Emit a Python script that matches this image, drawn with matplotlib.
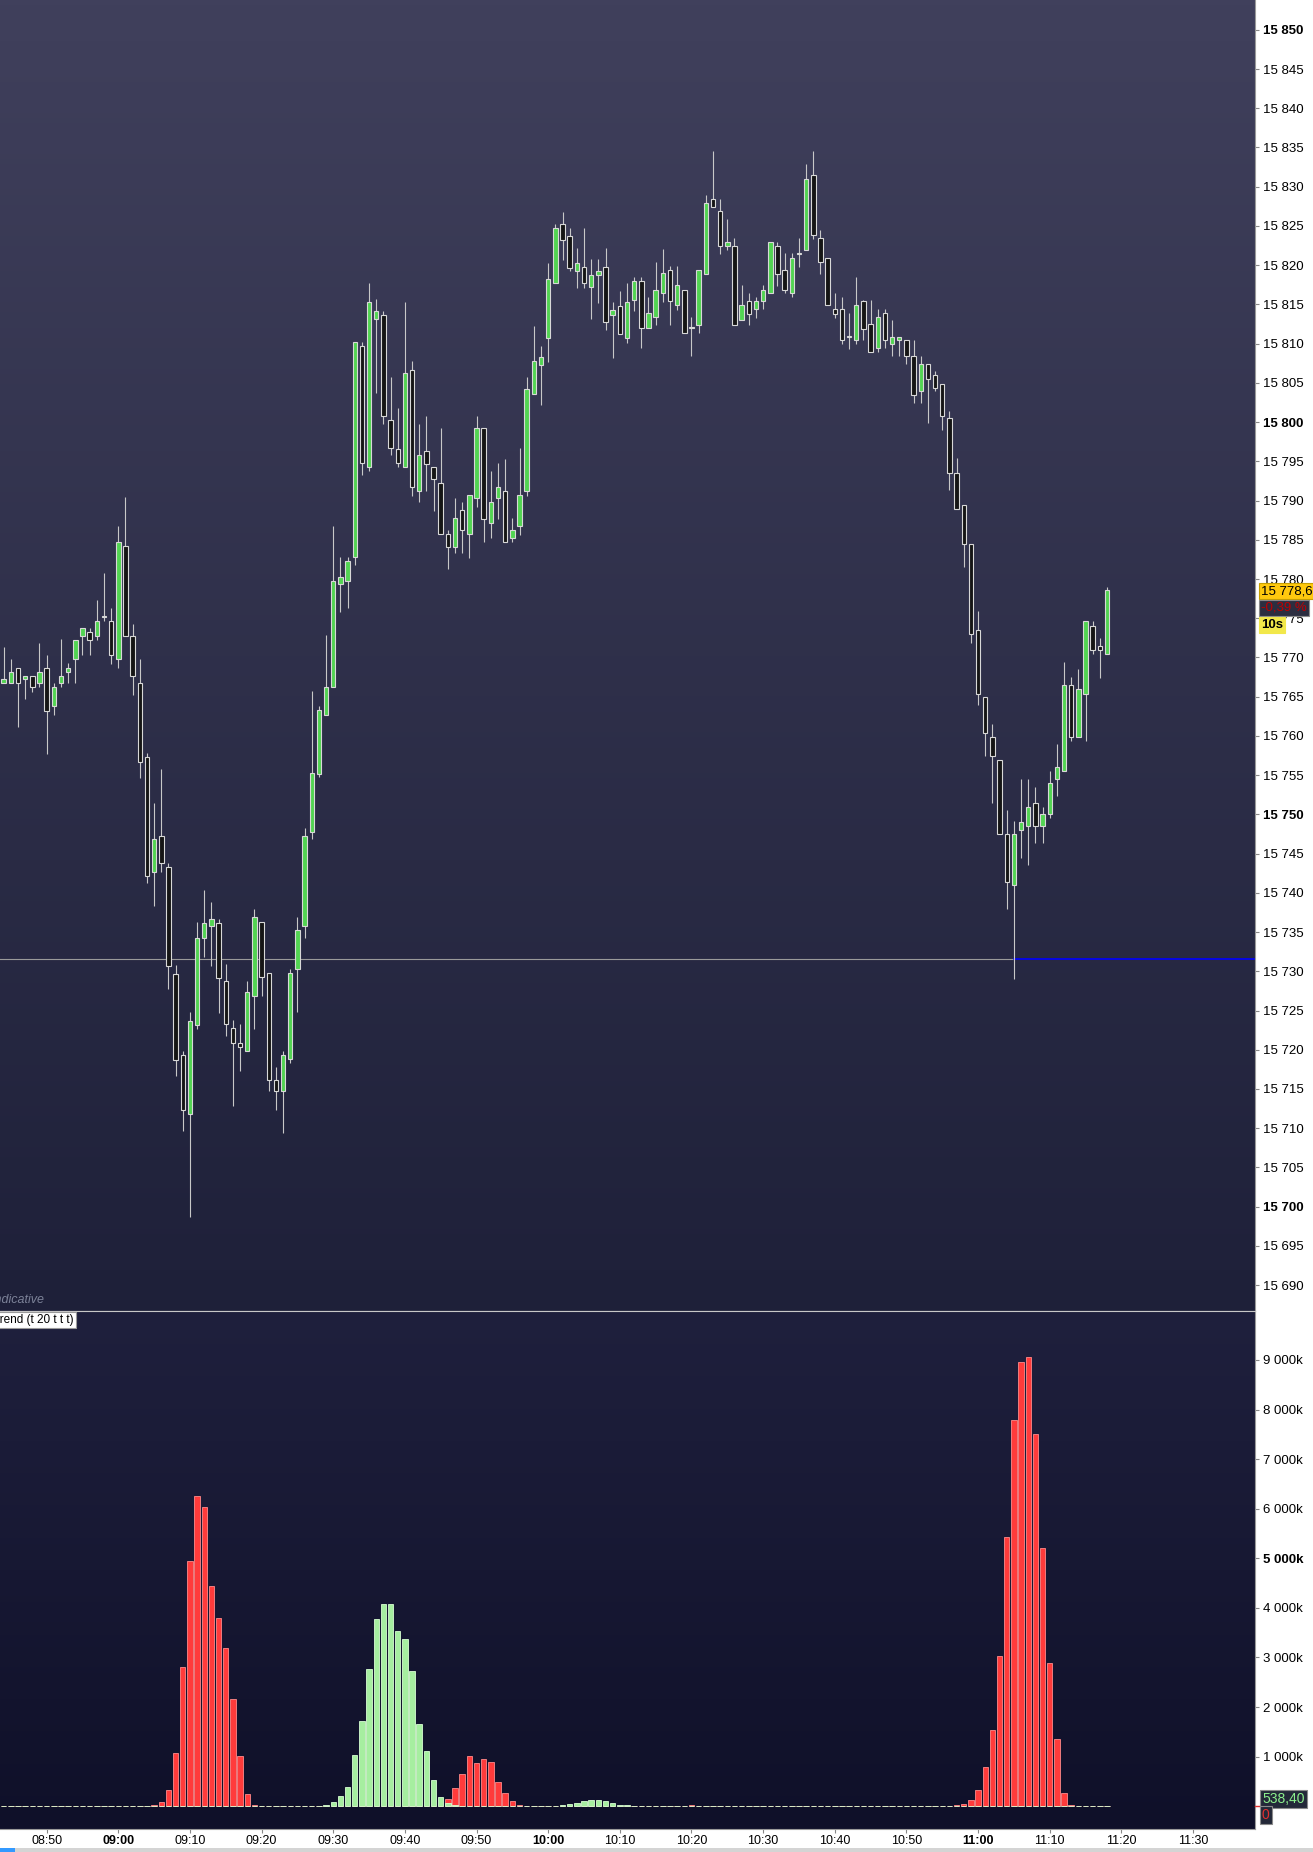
import numpy as np
import matplotlib
matplotlib.use("Agg")
import matplotlib.pyplot as plt
from matplotlib.colors import LinearSegmentedColormap
from matplotlib.patches import Rectangle

plt.rcParams["font.family"] = ["Liberation Sans", "DejaVu Sans"]

# one-minute candles from 08:44 to 11:18
opens = [15766.7, 15766.7, 15768.7, 15767.2, 15767.7, 15766.7, 15768.7, 15763.8, 15766.7, 15768.2,
         15769.8, 15772.7, 15773.2, 15772.7, 15775.2, 15774.7, 15769.8, 15784.2, 15772.7, 15766.7,
         15757.3, 15742.7, 15747.2, 15743.3, 15729.7, 15719.3, 15711.8, 15723.2, 15734.3, 15735.8,
         15736.2, 15728.8, 15722.8, 15720.8, 15719.8, 15726.8, 15736.3, 15729.8, 15716.2, 15714.8,
         15718.8, 15730.3, 15735.8, 15747.7, 15755.2, 15762.7, 15766.2, 15779.3, 15779.8, 15782.8,
         15809.7, 15794.3, 15813.2, 15813.7, 15800.3, 15796.6, 15794.3, 15806.7, 15791.2, 15796.3,
         15794.3, 15792.2, 15785.7, 15784.1, 15788.8, 15785.7, 15790.3, 15799.2, 15787.2, 15790.3,
         15791.2, 15785.2, 15786.7, 15791.2, 15803.6, 15807.3, 15810.7, 15817.7, 15825.3, 15823.7,
         15819.2, 15819.8, 15817.2, 15818.7, 15819.8, 15813.7, 15814.8, 15810.7, 15815.6, 15818.0,
         15812.0, 15813.4, 15816.4, 15819.4, 15814.9, 15816.9, 15812.0, 15812.4, 15818.9, 15828.4,
         15826.9, 15822.4, 15822.4, 15813.0, 15815.4, 15814.4, 15815.4, 15816.4, 15822.4, 15819.4,
         15816.4, 15821.4, 15821.9, 15831.5, 15823.5, 15820.9, 15814.4, 15814.4, 15810.9, 15810.4,
         15815.4, 15812.5, 15809.4, 15813.9, 15809.9, 15810.5, 15810.4, 15808.4, 15803.9, 15807.4,
         15806.0, 15804.9, 15800.5, 15793.5, 15789.4, 15784.4, 15773.5, 15764.9, 15759.9, 15756.9,
         15747.5, 15741.0, 15748.0, 15748.5, 15751.4, 15748.5, 15750.0, 15754.5, 15755.5, 15766.5,
         15759.9, 15765.4, 15774.0, 15771.4, 15770.4]
highs = [15771.3, 15769.8, 15768.7, 15767.7, 15767.7, 15771.9, 15770.3, 15766.7, 15772.3, 15769.3,
         15772.2, 15773.7, 15773.8, 15777.3, 15780.8, 15776.3, 15786.8, 15790.4, 15774.3, 15769.8,
         15757.8, 15751.4, 15755.8, 15743.8, 15730.8, 15719.9, 15724.8, 15736.3, 15740.4, 15738.8,
         15736.7, 15730.9, 15723.8, 15723.3, 15728.8, 15737.9, 15736.3, 15729.8, 15717.8, 15719.8,
         15730.3, 15736.9, 15748.3, 15765.7, 15763.8, 15772.8, 15786.8, 15782.8, 15782.8, 15810.2,
         15810.2, 15817.7, 15815.7, 15814.2, 15805.8, 15801.8, 15815.3, 15807.8, 15799.8, 15800.8,
         15794.3, 15799.3, 15786.3, 15790.3, 15789.8, 15790.7, 15800.8, 15799.2, 15793.8, 15794.8,
         15795.3, 15787.8, 15796.7, 15805.8, 15812.3, 15809.7, 15820.3, 15825.3, 15826.8, 15824.8,
         15822.2, 15824.8, 15820.8, 15820.8, 15822.2, 15815.3, 15816.7, 15817.7, 15818.5, 15818.5,
         15816.0, 15820.4, 15822.0, 15819.9, 15819.9, 15816.9, 15813.4, 15819.4, 15829.0, 15834.5,
         15828.4, 15825.9, 15823.5, 15817.5, 15816.5, 15816.0, 15817.5, 15822.9, 15822.9, 15821.5,
         15821.5, 15823.5, 15832.9, 15834.5, 15824.5, 15820.9, 15816.5, 15816.0, 15813.9, 15818.5,
         15815.6, 15815.6, 15814.4, 15814.4, 15813.0, 15810.9, 15810.4, 15810.5, 15808.4, 15807.4,
         15806.5, 15804.9, 15801.4, 15795.4, 15789.4, 15784.4, 15775.9, 15764.9, 15761.5, 15756.9,
         15750.6, 15749.1, 15754.5, 15754.5, 15753.5, 15750.9, 15755.5, 15759.0, 15769.4, 15767.5,
         15768.5, 15774.6, 15774.6, 15772.5, 15779.0]
lows = [15766.7, 15766.7, 15761.1, 15764.7, 15765.6, 15766.2, 15757.7, 15762.7, 15766.2, 15766.7,
        15766.7, 15770.3, 15770.3, 15772.2, 15774.7, 15769.2, 15768.7, 15772.7, 15765.2, 15754.6,
        15741.2, 15738.3, 15742.7, 15727.8, 15716.6, 15709.7, 15698.7, 15722.6, 15731.8, 15730.7,
        15724.7, 15721.8, 15712.8, 15717.3, 15719.8, 15722.7, 15726.8, 15714.8, 15712.3, 15709.4,
        15718.3, 15724.8, 15734.3, 15746.9, 15754.7, 15762.7, 15766.2, 15775.8, 15776.3, 15781.8,
        15793.3, 15793.8, 15803.7, 15799.7, 15795.8, 15794.3, 15794.3, 15790.6, 15789.8, 15791.2,
        15788.7, 15785.7, 15781.3, 15783.3, 15783.3, 15782.7, 15789.2, 15784.7, 15785.2, 15787.7,
        15784.7, 15784.7, 15785.6, 15790.6, 15803.6, 15802.2, 15807.7, 15817.7, 15820.7, 15819.2,
        15817.1, 15817.1, 15813.2, 15815.2, 15811.7, 15808.2, 15811.2, 15810.1, 15814.2, 15809.4,
        15812.0, 15812.4, 15815.3, 15812.4, 15814.3, 15811.4, 15808.4, 15811.4, 15818.9, 15827.4,
        15821.4, 15821.9, 15812.4, 15813.0, 15812.4, 15813.3, 15814.4, 15816.4, 15817.4, 15816.4,
        15815.9, 15819.8, 15821.9, 15823.4, 15818.9, 15814.9, 15813.3, 15809.9, 15809.3, 15809.9,
        15810.4, 15808.9, 15808.9, 15809.4, 15808.4, 15808.4, 15807.4, 15802.4, 15802.4, 15799.9,
        15803.9, 15799.0, 15791.4, 15788.9, 15781.5, 15771.9, 15763.9, 15757.4, 15751.4, 15747.5,
        15738.0, 15729.0, 15744.4, 15743.5, 15746.4, 15746.4, 15749.5, 15752.4, 15755.5, 15759.4,
        15759.9, 15759.4, 15770.4, 15767.4, 15770.4]
closes = [15767.2, 15768.2, 15766.7, 15767.7, 15766.2, 15768.2, 15763.2, 15766.2, 15767.7, 15768.7,
          15772.2, 15773.7, 15772.2, 15774.7, 15775.2, 15770.3, 15784.7, 15772.7, 15767.7, 15756.7,
          15742.2, 15746.8, 15743.8, 15730.7, 15718.7, 15712.3, 15723.7, 15734.3, 15736.2, 15736.7,
          15729.2, 15723.3, 15720.8, 15720.3, 15727.3, 15736.9, 15729.3, 15716.2, 15714.8, 15719.3,
          15729.8, 15735.3, 15747.3, 15755.3, 15763.3, 15766.2, 15779.8, 15780.2, 15782.3, 15810.2,
          15794.8, 15815.3, 15814.2, 15800.8, 15796.7, 15794.8, 15806.2, 15791.7, 15795.8, 15794.7,
          15792.7, 15785.7, 15784.1, 15787.8, 15786.2, 15790.7, 15799.2, 15787.7, 15789.8, 15791.7,
          15784.7, 15786.2, 15790.7, 15804.2, 15807.8, 15808.3, 15818.2, 15824.7, 15823.2, 15819.7,
          15820.3, 15817.7, 15818.7, 15819.3, 15812.7, 15814.3, 15811.2, 15815.3, 15818.0, 15812.0,
          15813.9, 15816.9, 15819.0, 15815.4, 15817.5, 15811.4, 15812.0, 15819.4, 15827.9, 15827.4,
          15822.4, 15822.9, 15812.4, 15814.9, 15813.8, 15815.4, 15816.9, 15822.9, 15818.9, 15816.9,
          15820.9, 15821.4, 15831.0, 15823.9, 15820.4, 15814.9, 15813.8, 15810.4, 15810.9, 15814.9,
          15811.9, 15808.9, 15813.4, 15810.5, 15810.9, 15810.9, 15808.4, 15803.4, 15807.4, 15805.5,
          15804.4, 15800.8, 15793.5, 15788.9, 15784.4, 15773.0, 15765.4, 15760.4, 15757.4, 15747.5,
          15741.4, 15747.5, 15749.0, 15750.9, 15748.5, 15750.0, 15754.0, 15756.0, 15766.5, 15759.9,
          15766.0, 15774.6, 15770.9, 15770.9, 15778.6]

# trend indicator (thousands), red and green parts per minute
vol_red = ([10] * 9 + [0] * 11 +
           [15, 28, 78, 326, 1065, 2803, 4940, 6253, 6026, 4436, 3790, 3201, 2172, 1008, 241, 21, 10, 10] +
           [0] * 24 +
           [156, 362, 660, 1008, 866, 944, 887, 483, 277, 106, 28, 10] +
           [0] * 19 +
           [15, 15, 15, 28, 15, 15] +
           [0] * 18 +
           [12] * 16 +
           [28, 43, 128, 326, 788, 1547, 3023, 5422, 7786, 8956, 9056, 7516, 5202, 2881, 1348, 277, 28] +
           [0] * 5)
vol_green = ([0] * 9 + [8] * 11 + [0] * 18 +
             [8, 8, 8, 8, 8, 10, 10, 28, 78, 199, 397, 1043, 1717, 2761, 3769, 4074, 4074, 3527,
              3371, 2725, 1661, 1114, 532, 185] +
             [57, 28, 14, 10, 10, 0, 0, 0, 0, 0, 0, 0] +
             [8, 8, 10, 10, 28, 50, 71, 114, 128, 128, 114, 57, 35, 28, 10, 10, 10, 10, 8] +
             [0] * 6 + [8] * 18 + [0] * 16 + [0] * 17 + [8, 8, 8, 8, 12])

time_labels = ["08:50", "09:00", "09:10", "09:20", "09:30", "09:40", "09:50", "10:00",
               "10:10", "10:20", "10:30", "10:40", "10:50", "11:00", "11:10", "11:20", "11:30"]
time_pos = [6 + 10 * k for k in range(len(time_labels))]

W, H = 1313, 1852
fig = plt.figure(figsize=(W / 100, H / 100), dpi=100)
fig.patch.set_facecolor("white")

ax = fig.add_axes([0, 1 - 1311 / H, 1255 / W, 1311 / H])
axv = fig.add_axes([0, 23 / H, 1255 / W, 518 / H], sharex=ax)

xmin, xmax = -0.51, 174.65
pmin, pmax = 15686.7, 15853.8
vmin, vmax = -458, 9986

def gradient(a, c_top, c_bot, y0, y1):
    cmap = LinearSegmentedColormap.from_list("bg", [c_bot, c_top])
    g = np.linspace(0, 1, 256).reshape(-1, 1)
    a.imshow(g, cmap=cmap, aspect="auto", origin="lower",
             extent=[xmin, xmax, y0, y1], zorder=0)

gradient(ax, "#40405c", "#1e2039", pmin, pmax)
gradient(axv, "#1f203d", "#0f1029", vmin, vmax)

# candles
idx = np.arange(len(opens))
o = np.array(opens); h = np.array(highs); l = np.array(lows); c = np.array(closes)
up = c >= o
ax.vlines(idx, l, h, color="#c8c8c8", linewidth=0.8, zorder=2)
body_lo = np.minimum(o, c)
body_h = np.maximum(np.abs(c - o), 0.12)
ax.bar(idx[up], body_h[up], bottom=body_lo[up], width=0.62, color="#52d452",
       edgecolor="#d8d8d8", linewidth=0.8, zorder=3)
ax.bar(idx[~up], body_h[~up], bottom=body_lo[~up], width=0.62, color="#151515",
       edgecolor="#d8d8d8", linewidth=0.8, zorder=3)

# reference line
ref = 15731.6
ax.plot([xmin, 141], [ref, ref], color="#9a9a9a", linewidth=0.8, zorder=1)
ax.plot([141, xmax], [ref, ref], color="#0000ff", linewidth=1.2, zorder=1)

ax.set_xlim(xmin, xmax)
ax.set_ylim(pmin, pmax)
ax.yaxis.tick_right()
pt = list(range(15690, 15851, 5))
ax.set_yticks(pt)
ax.set_yticklabels([f"{p // 1000} {p % 1000:03d}" for p in pt])
for lab, p in zip(ax.get_yticklabels(), pt):
    if p % 50 == 0:
        lab.set_fontweight("bold")
ax.tick_params(axis="y", labelsize=9.5, colors="#888888", labelcolor="black",
               length=3, width=0.8, pad=3)
ax.tick_params(axis="x", bottom=False, labelbottom=False)
for s in ["left", "top"]:
    ax.spines[s].set_visible(False)
ax.spines["right"].set_color("#9a9a9a")
ax.spines["bottom"].set_color("#c8c8c8")

# indicator bars
vr = np.array(vol_red, dtype=float)
vg = np.array(vol_green, dtype=float)
axv.bar(idx, vr, width=0.76, color="#ff3b3b", edgecolor="#ff8a8a", linewidth=0.6, zorder=2)
axv.bar(idx, vg, width=0.76, color="#a6eea0", edgecolor="#d8ffd2", linewidth=0.6, zorder=3)

axv.set_ylim(vmin, vmax)
vt = list(range(1000, 9001, 1000))
axv.yaxis.tick_right()
axv.set_yticks(vt)
axv.set_yticklabels([f"{v // 1000} 000k" for v in vt])
for lab, v in zip(axv.get_yticklabels(), vt):
    if v == 5000:
        lab.set_fontweight("bold")
axv.tick_params(axis="y", labelsize=9.5, colors="#888888", labelcolor="black",
                length=3, width=0.8, pad=3)
axv.set_xticks(time_pos)
axv.set_xticklabels(time_labels)
for lab, t in zip(axv.get_xticklabels(), time_labels):
    if t.endswith(":00"):
        lab.set_fontweight("bold")
axv.tick_params(axis="x", labelsize=9, colors="#888888", labelcolor="black",
                length=3, width=0.8, pad=1)
axv.spines["left"].set_visible(False)
axv.spines["top"].set_color("#c8c8c8")
axv.spines["right"].set_color("#9a9a9a")
axv.spines["bottom"].set_color("#9a9a9a")

# labels and boxes
def fx(px):
    return px / W

def fy(py):
    return 1 - py / H

fig.text(fx(-8), fy(1300), "Indicative", fontsize=9, style="italic", color="#7c8298",
         va="center", ha="left")
fig.text(fx(-7), fy(1320), "Trend (t 20 t t t)", fontsize=8.5, color="black", va="center", ha="left",
         bbox=dict(boxstyle="square,pad=0.2", facecolor="white", edgecolor="#9a9a9a", linewidth=0.8))

fig.text(fx(1261), fy(591), "15 778,6", fontsize=9.5, color="black", va="center", ha="left",
         bbox=dict(boxstyle="square,pad=0.15", facecolor="#ffc90e", edgecolor="#c8a000", linewidth=0.8))
fig.text(fx(1261), fy(608), "-0,39 %", fontsize=9.5, color="#c00000", va="center", ha="left",
         bbox=dict(boxstyle="square,pad=0.15", facecolor="#2c2e40", edgecolor="#8a8a8a", linewidth=0.8))
fig.text(fx(1261), fy(625), "10s", fontsize=9.5, fontweight="bold", color="black", va="center", ha="left",
         bbox=dict(boxstyle="square,pad=0.15", facecolor="#f2e84a", edgecolor="#f2e84a", linewidth=0.8))

fig.text(fx(1262), fy(1799), "538,40", fontsize=10, color="#8cf08c", va="center", ha="left",
         bbox=dict(boxstyle="square,pad=0.15", facecolor="#232838", edgecolor="#8a8a8a", linewidth=0.8))
fig.text(fx(1262), fy(1815), "0", fontsize=10, color="#e03030", va="center", ha="left",
         bbox=dict(boxstyle="square,pad=0.15", facecolor="#232838", edgecolor="#8a8a8a", linewidth=0.8))
fig.lines.append(plt.Line2D([fx(1255), fx(1260)], [fy(1806), fy(1806)], transform=fig.transFigure,
                            color="#e03030", linewidth=1))

# bottom status strip
fig.patches.append(Rectangle((0, 0), 1, 4 / H, transform=fig.transFigure,
                             facecolor="#d4d4d4", edgecolor="none"))
fig.patches.append(Rectangle((0, 0), fx(15), 4 / H, transform=fig.transFigure,
                             facecolor="#3399ff", edgecolor="none"))

fig.savefig("out.png", dpi=100, facecolor="white")
